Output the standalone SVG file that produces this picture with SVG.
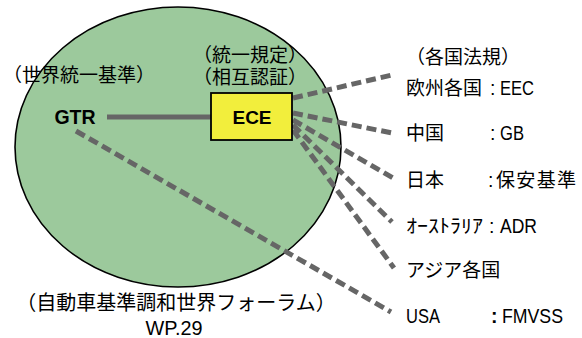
<svg xmlns="http://www.w3.org/2000/svg" width="582" height="338" viewBox="0 0 582 338">
<style>
text{font-family:"Liberation Sans","Noto Sans CJK JP",sans-serif;fill:#000}
.j{font-size:19px}
.l{font-size:19.5px}
.b{font-weight:bold}
.dash{stroke:#666;stroke-width:5;stroke-dasharray:10 5;fill:none}
</style>
<rect width="582" height="338" fill="#fff"/>
<g id="wp29">
<ellipse cx="178" cy="147" rx="163" ry="140" fill="#9cc99c" stroke="#000" stroke-width="1.6"/>
<text x="176" y="310" font-size="20" text-anchor="middle">（自動車基準調和世界フォーラム）</text>
<text class="l" x="174" y="335" text-anchor="middle" textLength="57" lengthAdjust="spacingAndGlyphs">WP.29</text>
</g>
<g id="connectors">
<line x1="107" y1="117" x2="211" y2="117" stroke="#666" stroke-width="5"/>
<line class="dash" x1="293" y1="98" x2="392" y2="75"/>
<line class="dash" x1="293" y1="113" x2="392" y2="133"/>
<line class="dash" x1="293" y1="120" x2="393" y2="178"/>
<line class="dash" x1="293" y1="125" x2="392" y2="222"/>
<line class="dash" x1="293" y1="130" x2="394" y2="268"/>
<line class="dash" x1="76" y1="131" x2="391" y2="312"/>
</g>
<g id="gtr">
<text x="75" y="124" font-size="19.5" class="b" text-anchor="middle">GTR</text>
<text class="j" x="79" y="82" text-anchor="middle">（世界統一基準）</text>
</g>
<g id="ece">
<rect x="211" y="93" width="81" height="47" fill="#f2ee3c" stroke="#000" stroke-width="1.8"/>
<text x="252" y="124" font-size="19" class="b" text-anchor="middle">ECE</text>
<text class="j" x="250" y="62" text-anchor="middle">（統一規定）</text>
<text class="j" x="250" y="84" text-anchor="middle">（相互認証）</text>
</g>
<g id="national">
<text class="j" x="463" y="64" text-anchor="middle">（各国法規）</text>
</g>
<g id="eec">
<text class="j" x="406" y="95">欧州各国</text>
<text class="l" x="490" y="95">:</text>
<text class="l" x="500" y="95" textLength="34" lengthAdjust="spacingAndGlyphs">EEC</text>
</g>
<g id="gb">
<text class="j" x="406" y="140">中国</text>
<text class="l" x="490" y="140">:</text>
<text class="l" x="500" y="140" textLength="24" lengthAdjust="spacingAndGlyphs">GB</text>
</g>
<g id="japan">
<text class="j" x="406" y="187">日本</text>
<text class="l" x="488" y="187">:</text>
<text class="j" x="496" y="187" textLength="80">保安基準</text>
</g>
<g id="adr">
<text class="j" x="406" y="233" textLength="77" lengthAdjust="spacingAndGlyphs">ｵｰｽﾄﾗﾘｱ</text>
<text class="l" x="489" y="233">:</text>
<text class="l" x="500" y="233" textLength="37" lengthAdjust="spacingAndGlyphs">ADR</text>
</g>
<g id="asia">
<text class="j" x="406" y="277">アジア各国</text>
</g>
<g id="usa">
<text class="l" x="406" y="323" textLength="34" lengthAdjust="spacingAndGlyphs">USA</text>
<text class="l b" x="491" y="323">:</text>
<text class="l" x="502" y="323" textLength="61" lengthAdjust="spacingAndGlyphs">FMVSS</text>
</g>
</svg>
